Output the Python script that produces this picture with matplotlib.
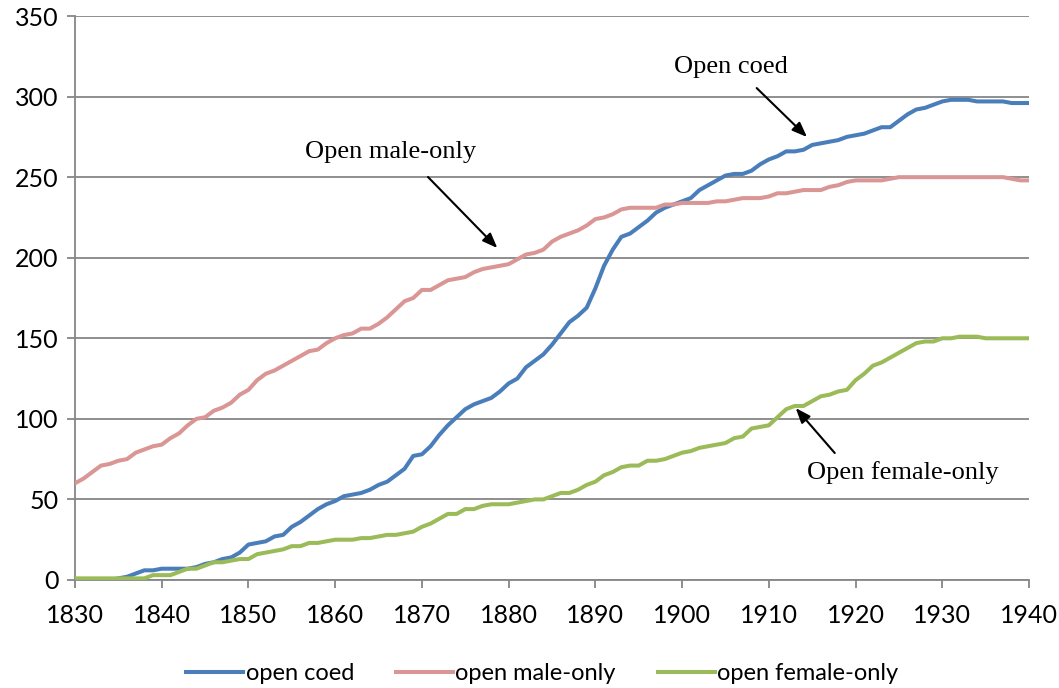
"""
Open colleges by admission type, 1830-1940
"""

import numpy as np
import matplotlib
matplotlib.use('Agg')
import matplotlib.pyplot as plt

# Years (annual)
YEARS = list(range(1830, 1941))

# Number of open colleges
OPEN_COED = [
    0, 0, 0, 0, 0, 1, 2, 4, 6, 6,
    7, 7, 7, 7, 8, 10, 11, 13, 14, 17,
    22, 23, 24, 27, 28, 33, 36, 40, 44, 47,
    49, 52, 53, 54, 56, 59, 61, 65, 69, 77,
    78, 83, 90, 96, 101, 106, 109, 111, 113, 117,
    122, 125, 132, 136, 140, 146, 153, 160, 164, 169,
    181, 195, 205, 213, 215, 219, 223, 228, 231, 233,
    235, 237, 242, 245, 248, 251, 252, 252, 254, 258,
    261, 263, 266, 266, 267, 270, 271, 272, 273, 275,
    276, 277, 279, 281, 281, 285, 289, 292, 293, 295,
    297, 298, 298, 298, 297, 297, 297, 297, 296, 296,
    296,
]

OPEN_MALE = [
    60, 63, 67, 71, 72, 74, 75, 79, 81, 83,
    84, 88, 91, 96, 100, 101, 105, 107, 110, 115,
    118, 124, 128, 130, 133, 136, 139, 142, 143, 147,
    150, 152, 153, 156, 156, 159, 163, 168, 173, 175,
    180, 180, 183, 186, 187, 188, 191, 193, 194, 195,
    196, 199, 202, 203, 205, 210, 213, 215, 217, 220,
    224, 225, 227, 230, 231, 231, 231, 231, 233, 233,
    234, 234, 234, 234, 235, 235, 236, 237, 237, 237,
    238, 240, 240, 241, 242, 242, 242, 244, 245, 247,
    248, 248, 248, 248, 249, 250, 250, 250, 250, 250,
    250, 250, 250, 250, 250, 250, 250, 250, 249, 248,
    248,
]

OPEN_FEMALE = [
    1, 1, 1, 1, 1, 1, 1, 1, 1, 3,
    3, 3, 5, 7, 7, 9, 11, 11, 12, 13,
    13, 16, 17, 18, 19, 21, 21, 23, 23, 24,
    25, 25, 25, 26, 26, 27, 28, 28, 29, 30,
    33, 35, 38, 41, 41, 44, 44, 46, 47, 47,
    47, 48, 49, 50, 50, 52, 54, 54, 56, 59,
    61, 65, 67, 70, 71, 71, 74, 74, 75, 77,
    79, 80, 82, 83, 84, 85, 88, 89, 94, 95,
    96, 101, 106, 108, 108, 111, 114, 115, 117, 118,
    124, 128, 133, 135, 138, 141, 144, 147, 148, 148,
    150, 150, 151, 151, 151, 150, 150, 150, 150, 150,
    150,
]

SERIES_LABELS = ['open coed', 'open male-only', 'open female-only']
SERIES_COLORS = ['#4A7EBB', '#DA9694', '#9BBB59']

X_TICKS = list(range(1830, 1941, 10))
Y_TICKS = list(range(0, 351, 50))

# Callouts: text, text position, arrow tail, arrow head (data coords)
CALLOUTS = [
    ('Open coed', (1905.6, 318.4), (1908.6, 305.3), (1914.4, 274.9)),
    ('Open male-only', (1866.4, 265.6), (1870.7, 250.1), (1878.7, 206.0)),
    ('Open female-only', (1925.5, 67.0), (1917.6, 78.8), (1913.1, 106.7)),
]

GRID_COLOR = '#868686'


def main():
    plt.rcParams['font.family'] = ['Lato', 'DejaVu Sans']

    fig = plt.figure(figsize=(10.59, 6.88), dpi=100)
    ax = fig.add_axes([0.0708, 0.157, 0.9009, 0.8197])

    for values, label, color in zip([OPEN_COED, OPEN_MALE, OPEN_FEMALE],
                                    SERIES_LABELS, SERIES_COLORS):
        ax.plot(YEARS, values, color=color, lw=2.9, label=label,
                solid_joinstyle='round', zorder=3)

    ax.set_xlim(1830, 1940)
    ax.set_ylim(0, 350)
    ax.set_xticks(X_TICKS)
    ax.set_yticks(Y_TICKS)
    ax.tick_params(axis='both', labelsize=18, color=GRID_COLOR,
                   width=1.3, length=6, direction='out')
    ax.tick_params(axis='x', pad=11)
    ax.tick_params(axis='y', pad=6)

    ax.grid(axis='y', color=GRID_COLOR, lw=1.3, zorder=0)
    ax.set_axisbelow(True)
    for side in ['top', 'right']:
        ax.spines[side].set_visible(False)
    for side in ['left', 'bottom']:
        ax.spines[side].set_color(GRID_COLOR)
        ax.spines[side].set_linewidth(1.3)

    for text, text_pos, tail, head in CALLOUTS:
        ax.text(text_pos[0], text_pos[1], text, family='Liberation Serif',
                fontsize=19, ha='center', va='center', zorder=5)
        ax.annotate('', xy=head, xytext=tail,
                    arrowprops=dict(arrowstyle='-|>,head_length=0.9,head_width=0.35',
                                    color='black', lw=1.5, shrinkA=0, shrinkB=0),
                    zorder=5)

    ax.legend(loc='lower center', bbox_to_anchor=(0.49, -0.222), ncol=3,
              frameon=False, fontsize=17, handlelength=2.4, handletextpad=0.1,
              columnspacing=1.8)

    fig.savefig('out.png', dpi=100)


if __name__ == '__main__':
    main()
